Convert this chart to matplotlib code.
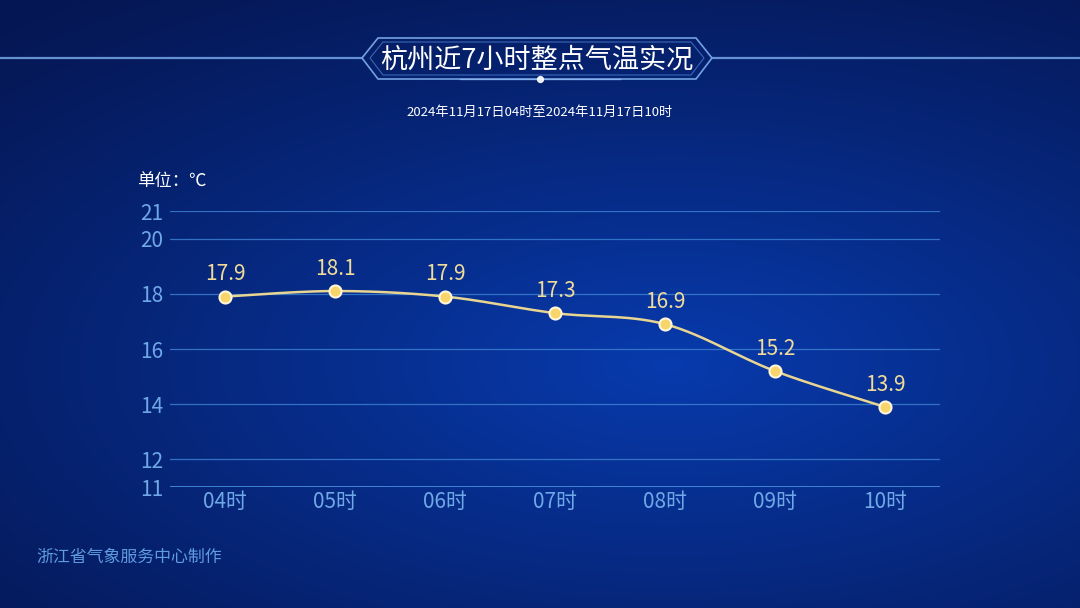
import numpy as np
import matplotlib
matplotlib.use("Agg")
import matplotlib.pyplot as plt
from matplotlib.patches import Polygon

plt.rcParams["font.family"] = ["Noto Sans CJK SC", "DejaVu Sans"]

hours = ["04时", "05时", "06时", "07时", "08时", "09时", "10时"]
temps = [17.9, 18.1, 17.9, 17.3, 16.9, 15.2, 13.9]
y_ticks = [11, 12, 14, 16, 18, 20, 21]

title = "杭州近7小时整点气温实况"
subtitle = "2024年11月17日04时至2024年11月17日10时"
unit_label = "单位：℃"
footer = "浙江省气象服务中心制作"

W, H = 1080, 608
fig = plt.figure(figsize=(W / 100, H / 100), dpi=100)

# background gradient
bg = fig.add_axes([0, 0, 1, 1])
bg.set_axis_off()
yy, xx = np.mgrid[0:1:300j, 0:1:540j]
r = np.sqrt(((xx - 0.62) / 0.9) ** 2 + ((yy - 0.6) / 0.75) ** 2)
t = np.clip(1 - r, 0, 1) ** 1.1
top = np.array([0.02, 0.09, 0.33])
mid = np.array([0.03, 0.23, 0.68])
img = top[None, None, :] * (1 - t[..., None]) + mid[None, None, :] * t[..., None]
bg.imshow(img, extent=[0, W, 0, H], origin="lower", aspect="auto")
bg.set_xlim(0, W)
bg.set_ylim(H, 0)

# title bar decoration
bg.plot([0, 362], [58, 58], color="#6f9fe0", lw=1.6, alpha=0.9)
bg.plot([712, W], [58, 58], color="#6f9fe0", lw=1.6, alpha=0.9)
frame = Polygon([[362, 58], [378, 38], [696, 38], [712, 58], [696, 79], [378, 79]],
                closed=True, fill=False, edgecolor="#7fb0f0", lw=1.2, alpha=0.9)
bg.add_patch(frame)
frame2 = Polygon([[370, 58], [383, 42], [691, 42], [704, 58], [691, 75], [383, 75]],
                 closed=True, fill=False, edgecolor="#4f86d8", lw=0.8, alpha=0.7)
bg.add_patch(frame2)
bg.plot([460, 620], [79, 79], color="#9fc8ff", lw=1.0, alpha=0.6)
bg.scatter([540], [79], s=18, color="white", alpha=0.9, zorder=5)

bg.text(537, 60, title, color="white", fontsize=19.5, ha="center", va="center")
bg.text(540, 112, subtitle, color="white", fontsize=9.5, ha="center", va="center")
bg.text(137, 181, unit_label, color="white", fontsize=12.5, ha="left", va="center")
bg.text(36, 557, footer, color="#5f9be0", fontsize=12.2, ha="left", va="center")

# chart
ax = fig.add_axes([170 / W, 1 - 487 / H, 770 / W, 276 / H])
ax.patch.set_alpha(0)
x = np.arange(len(hours))
ax.set_xlim(-0.5, len(hours) - 0.5)
ax.set_ylim(11, 21)
ax.set_yticks(y_ticks)
ax.set_xticks(x)
ax.set_xticklabels(hours)
for s in ax.spines.values():
    s.set_visible(False)
ax.tick_params(length=0, colors="#6fa8e6", labelsize=15)
ax.tick_params(axis="y", pad=5)
ax.tick_params(axis="x", pad=3)
for v in y_ticks:
    ax.axhline(v, color="#3b7fd0", lw=0.9, alpha=0.85, zorder=1)
ax.axhline(11, color="#4a90e0", lw=1.2, zorder=1)

# smoothed line (Catmull-Rom through the points)
pts = np.column_stack([x, temps]).astype(float)
ext = np.vstack([pts[0], pts, pts[-1]])
curve = []
for i in range(1, len(ext) - 2):
    p0, p1, p2, p3 = ext[i - 1], ext[i], ext[i + 1], ext[i + 2]
    for s in np.linspace(0, 1, 30):
        s2, s3 = s * s, s * s * s
        c = 0.5 * ((2 * p1) + (-p0 + p2) * s + (2 * p0 - 5 * p1 + 4 * p2 - p3) * s2
                   + (-p0 + 3 * p1 - 3 * p2 + p3) * s3)
        curve.append(c)
curve = np.array(curve)
ax.plot(curve[:, 0], curve[:, 1], color="#e9d592", lw=1.8, zorder=3)
ax.scatter(x, temps, s=75, color="#f7d56a", edgecolor="#fff6da", linewidth=1.5, zorder=4)
for xi, v in zip(x, temps):
    ax.annotate(f"{v:.1f}", (xi, v), xytext=(0, 8), textcoords="offset points",
                ha="center", va="bottom", color="#f2dc9a", fontsize=15)

fig.savefig("out.png", dpi=100)
